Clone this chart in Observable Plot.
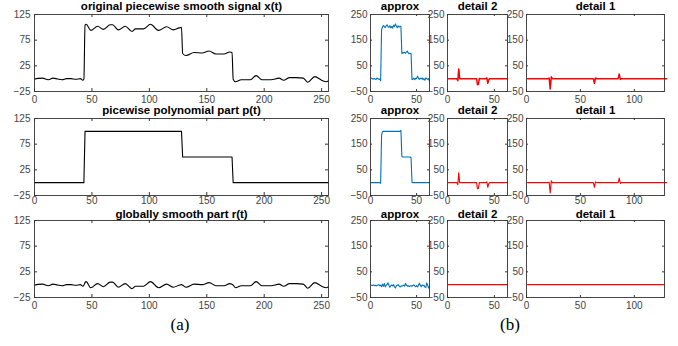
<!DOCTYPE html>
<html><head><meta charset="utf-8">
<script src="https://cdn.jsdelivr.net/npm/d3@7"></script>
<script src="https://cdn.jsdelivr.net/npm/@observablehq/plot@0.6"></script>
<style>
body{margin:0;background:#fff;}
#fig{position:relative;width:678px;height:346px;overflow:hidden;background:#fff;}
.cap{position:absolute;font-family:"Liberation Serif","Times New Roman",serif;font-size:17px;color:#000;transform:translate(-50%,-50%);white-space:nowrap;}
</style></head><body><div id="fig"></div>
<script>
// ---------- data ----------
const tLeft = [0,3,7,12,16,20,24,28,32,36,40,42,43,44,45,49,55,60,66,68,73,79,85,88,95,101,108,115,121,126,128,129,132,139,146,152,158,165,170,172,173,175,180,188,193,198,206,213,217,222,228,234,238,244,250,254,256];
const signalX = [-1,0.5,1,-2,1,-0.5,-2,0,0,-1,0,-3,-1,104,106,94,102,96,105,105,95,102,92,97,97,106,94,101,95,99,100,49,45,51,50,54,48,48,52,51,-1,-6,-2,-2,6,-2,-2,1,-3,2,2,1,-7,4,-3,-6,-4];
const polyP = [0,0,0,0,0,0,0,0,0,0,0,0,0,100,100,100,100,100,100,100,100,100,100,100,100,100,100,100,100,100,100,50,50,50,50,50,50,50,50,50,0,0,0,0,0,0,0,0,0,0,0,0,0,0,0,0,0];
const smoothR = [-1,0.5,1,-2,1,-0.5,-2,0,0,-1,0,-3,-1,4,6,-6,2,-4,5,5,-5,2,-8,-3,-3,6,-6,1,-5,-1,0,-1,-5,1,0,4,-2,-2,2,1,-1,-6,-2,-2,6,-2,-2,1,-3,2,2,1,-7,4,-3,-6,-4];

const approxX = [2,0,-2,1,-1,-3,2,0,-2,-1,-8,190,202,207,203,199,206,210,203,200,206,198,203,197,208,203,213,205,198,206,201,204,204,97,102,100,103,99,104,107,100,97,99,97,-3,-2,2,-4,1,0,10,1,-3,2,-1,3,-4,0,-6,3,1,-3,0,-10];
const approxP = [0,0,0,0,0,0,0,0,0,0,-2,185,199,200,200,200,200,200,200,200,200,200,200,200,200,200,200,200,200,200,200,200,204,102,100,100,100,100,100,100,100,100,100,97,2,0,0,0,0,0,0,0,0,0,0,0,0,0,0,0,0,0,0,0];
const approxR = [-2,-3,-1,-4,-2,-5,-3,-1,0,-4,-2,-8,2,-6,4,-9,-3,1,7,-2,-10,-4,-1,-5,0,-8,-13,-4,-2,0,-5,-9,-6,-4,-5,-2,-6,5,-2,-6,-4,-7,-5,-4,-6,-3,-1,-5,-8,-4,-9,-2,6,-3,-8,-1,-4,-2,-9,-11,7,-3,-13,-6];

const detail2 = [0,0,0,0,0,0,0,0,0,0,-8,38,0,0,0,0,0,0,0,0,0,0,0,0,0,0,0,0,0,0,0,-24,-22,1,0,0,0,0,0,0,0,3,-18,-4,0,0,0,0,0,0,0,0,0,0,0,0,0,0,0,0,0,0,0,0];
const detail1 = [0,0,0,0,0,0,0,0,0,0,0,0,0,0,0,0,0,0,0,0,2,-40,7,0,0,0,0,0,0,0,0,0,0,0,0,0,0,0,0,0,0,0,0,0,0,0,0,0,0,0,0,0,0,0,0,0,0,0,0,0,0,0,-18,3,0,0,0,0,0,0,0,0,0,0,0,0,0,0,0,0,0,0,0,0,0,18,-3,0,0,0,0,0,0,0,0,0,0,0,0,0,0,0,0,0,0,0,0,0,0,0,0,0,0,0,0,0,0,0,0,0,0,0,0,0,0,0,0,0,0,0];
const detail2Smooth = [0,0,0,0,0,0,0,0,0,0,0,0,0,0,0,0,0,0,0,0,0,0,0,0,0,0,0,0,0,0,0,0,0,0,0,0,0,0,0,0,0,0,0,0,0,0,0,0,0,0,0,0,0,0,0,0,0,0,0,0,0,0,0,0];
const detail1Smooth = [0,0,0,0,0,0,0,0,0,0,0,0,0,0,0,0,0,0,0,0,0,0,0,0,0,0,0,0,0,0,0,0,0,0,0,0,0,0,0,0,0,0,0,0,0,0,0,0,0,0,0,0,0,0,0,0,0,0,0,0,0,0,0,0,0,0,0,0,0,0,0,0,0,0,0,0,0,0,0,0,0,0,0,0,0,0,0,0,0,0,0,0,0,0,0,0,0,0,0,0,0,0,0,0,0,0,0,0,0,0,0,0,0,0,0,0,0,0,0,0,0,0,0,0,0,0,0,0];

const leftTitles = ["original piecewise smooth signal x(t)", "picewise polynomial part p(t)", "globally smooth part r(t)"];
const rightTitles = ["approx", "detail 2", "detail 1"];
const leftXTicks = [0,50,100,150,200,250];
const leftYTicks = [-25,25,75,125];
const rightYTicks = [-50,50,150,250];
const approxXTicks = [0,50];
const detail1XTicks = [0,50,100];
const captions = ["(a)", "(b)"];

// ---------- drawing ----------
const fig = document.getElementById("fig");
const AXIS = "#333";
const BLUE = "#0072BD";
const RED = "#FF0000";

function panel(o) {
  const innerW = o.width - o.ml - o.mr, innerH = o.height - o.mt - o.mb;
  const tl = o.tickLen;
  const svg = Plot.plot({
    width: o.width, height: o.height,
    marginTop: o.mt, marginBottom: o.mb, marginLeft: o.ml, marginRight: o.mr,
    style: {fontFamily: "'Liberation Sans', Arial, Helvetica, sans-serif", fontSize: "10px", color: "#444", background: "transparent", overflow: "visible"},
    x: {domain: o.xDomain, ticks: o.xTicks, tickSize: 0, tickPadding: o.xPad, label: null},
    y: {domain: o.yDomain, ticks: o.yTicks, tickSize: 0, tickPadding: o.yPad, label: null},
    marks: [
      Plot.ruleX(o.xTicks, {insetTop: innerH - tl, stroke: AXIS}),
      Plot.ruleX(o.xTicks, {insetBottom: innerH - tl, stroke: AXIS}),
      Plot.ruleY(o.yTicks, {insetRight: innerW - tl, stroke: AXIS}),
      Plot.ruleY(o.yTicks, {insetLeft: innerW - tl, stroke: AXIS}),
      Plot.line(o.data, {x: "x", y: "y", stroke: o.color, strokeWidth: o.sw, curve: o.curve || "linear"}),
      Plot.frame({stroke: AXIS, strokeWidth: 0.9}),
      Plot.text([o.title], {text: d => d, frameAnchor: "top", lineAnchor: "middle", dy: o.titleDy, fontWeight: "bold", fontSize: 11.5, fill: "#000"})
    ]
  });
  svg.style.position = "absolute";
  svg.style.left = o.left + "px";
  svg.style.top = o.top + "px";
  svg.style.overflow = "visible";
  fig.appendChild(svg);
}

const rows = [
  {top: 0, height: 104, mt: 14, mb: 13, xPad: 4, titleDy: -8},
  {top: 104, height: 104, mt: 14, mb: 13, xPad: 1.5, titleDy: -8},
  {top: 205, height: 106, mt: 15, mb: 14, xPad: 4, titleDy: -6.5}
];
const leftSeries = [signalX, polyP, smoothR];
const leftCurves = ["monotone-x", "linear", "monotone-x"];
const approxSeries = [approxX, approxP, approxR];
const detail2Series = [detail2, detail2, detail2Smooth];
const detail1Series = [detail1, detail1, detail1Smooth];

rows.forEach((r, i) => {
  const common = {top: r.top, height: r.height, mt: r.mt, mb: r.mb, xPad: r.xPad, titleDy: r.titleDy};
  panel({
    ...common, left: 0, width: 334, ml: 34, mr: 6,
    xDomain: [0, 256], xTicks: leftXTicks, yDomain: [-25, 125], yTicks: leftYTicks, yPad: 4, tickLen: 3,
    data: tLeft.map((t, k) => ({x: t, y: leftSeries[i][k]})),
    color: "#000", sw: 1.1, curve: leftCurves[i], title: leftTitles[i]
  });
  panel({
    ...common, left: 345, width: 86, ml: 25, mr: 2,
    xDomain: [0, 64], xTicks: approxXTicks, yDomain: [-50, 250], yTicks: rightYTicks, yPad: 3, tickLen: 2,
    data: approxSeries[i].map((v, k) => ({x: k + 1, y: v})),
    color: BLUE, sw: 1.1, title: rightTitles[0]
  });
  panel({
    ...common, left: 425, width: 84, ml: 22, mr: 2,
    xDomain: [0, 64], xTicks: approxXTicks, yDomain: [-50, 250], yTicks: rightYTicks, yPad: 3, tickLen: 2,
    data: detail2Series[i].map((v, k) => ({x: k + 1, y: v})),
    color: RED, sw: i === 0 ? 1.5 : 1.1, title: rightTitles[1]
  });
  panel({
    ...common, left: 503, width: 165, ml: 23, mr: 4,
    xDomain: [0, 128], xTicks: detail1XTicks, yDomain: [-50, 250], yTicks: rightYTicks, yPad: 3, tickLen: 2,
    data: detail1Series[i].map((v, k) => ({x: k + 1, y: v})),
    color: RED, sw: i === 0 ? 1.5 : 1.1, title: rightTitles[2]
  });
});

[[180, 325], [510, 325]].forEach(([cx, cy], i) => {
  const d = document.createElement("div");
  d.className = "cap";
  d.style.left = cx + "px";
  d.style.top = cy + "px";
  d.textContent = captions[i];
  fig.appendChild(d);
});
</script>
</body></html>
